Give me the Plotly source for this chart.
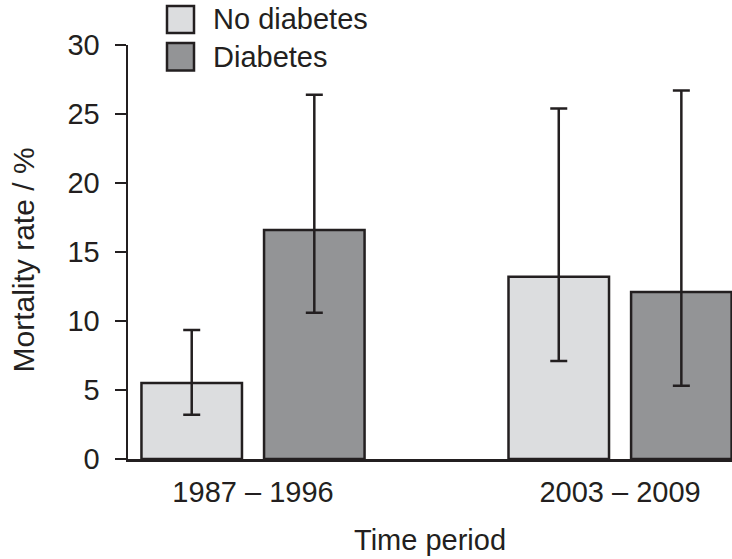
import plotly.graph_objects as go

# ---- data ----
periods = ["1987 – 1996", "2003 – 2009"]
no_diab = [5.5, 13.2]
no_diab_low = [3.2, 7.1]
no_diab_high = [9.35, 25.4]
diab = [16.6, 12.1]
diab_low = [10.6, 5.3]
diab_high = [26.4, 26.7]

INK = "#231f20"
LIGHT = "#dcdddf"
DARK = "#939496"
FONT = "Liberation Sans, Arial, sans-serif"
FS = 29

W, H = 732, 559
# plot area in window pixels: x 128..732, y 45..459
ML, MR, MT, MB = 128, 0, 45, 559 - 459
PW, PH = W - ML - MR, H - MT - MB


def px_x(p):  # window pixel -> paper
    return (p - ML) / PW


def px_y(p):
    return (H - MB - p) / PH


def err(vals, low, high):
    return dict(type="data", symmetric=False,
                array=[h - v for v, h in zip(vals, high)],
                arrayminus=[v - l for v, l in zip(vals, low)],
                color=INK, thickness=2.5, width=8.5)


fig = go.Figure()
fig.add_trace(go.Bar(x=periods, y=no_diab, name="No diabetes",
                     marker=dict(color=LIGHT, line=dict(color=INK, width=2.5)),
                     error_y=err(no_diab, no_diab_low, no_diab_high)))
fig.add_trace(go.Bar(x=periods, y=diab, name="Diabetes",
                     marker=dict(color=DARK, line=dict(color=INK, width=2.5)),
                     error_y=err(diab, diab_low, diab_high)))

# manual legend
legend_items = [("No diabetes", LIGHT, 6, 33, 19.5), ("Diabetes", DARK, 43, 70.5, 57)]
for label, col, y0, y1, yc in legend_items:
    fig.add_shape(type="rect", xref="paper", yref="paper",
                  x0=px_x(167), x1=px_x(194), y0=px_y(y1), y1=px_y(y0),
                  fillcolor=col, line=dict(color=INK, width=2.5))
    fig.add_annotation(text=label, xref="paper", yref="paper",
                       x=px_x(211), y=px_y(yc), xanchor="left", yanchor="middle",
                       showarrow=False, font=dict(family=FONT, size=FS, color=INK))

fig.add_annotation(text="Time period", xref="paper", yref="paper",
                   x=0.5, y=px_y(540), xanchor="center", yanchor="middle",
                   showarrow=False, font=dict(family=FONT, size=FS, color=INK))
fig.add_annotation(text="Mortality rate / %", xref="paper", yref="paper",
                   x=px_x(23), y=px_y(260.5), xanchor="center", yanchor="middle",
                   textangle=-90, showarrow=False,
                   font=dict(family=FONT, size=30, color=INK))

fig.update_layout(
    width=W, height=H,
    margin=dict(l=ML, r=MR, t=MT, b=MB, autoexpand=False),
    paper_bgcolor="white", plot_bgcolor="white",
    barmode="group", bargap=0.332, bargroupgap=0.18,
    showlegend=False,
    font=dict(family=FONT, size=FS, color=INK),
)
fig.update_xaxes(type="category", range=[-0.3406, 1.305],
                 showline=True, linecolor=INK, linewidth=2.5,
                 ticks="", showgrid=False, zeroline=False,
                 ticklabelstandoff=6,
                 tickfont=dict(family=FONT, size=FS, color=INK))
fig.update_yaxes(range=[0, 30], dtick=5, tick0=0,
                 showline=True, linecolor=INK, linewidth=2.5,
                 ticks="outside", ticklen=11, tickwidth=2.5, tickcolor=INK,
                 showgrid=False, zeroline=False,
                 ticklabelstandoff=9,
                 tickfont=dict(family=FONT, size=FS, color=INK))

fig.write_html(
    "out.html",
    config={"displayModeBar": False, "staticPlot": True},
    post_script="document.body.style.margin='0';document.body.style.overflow='hidden';",
)
